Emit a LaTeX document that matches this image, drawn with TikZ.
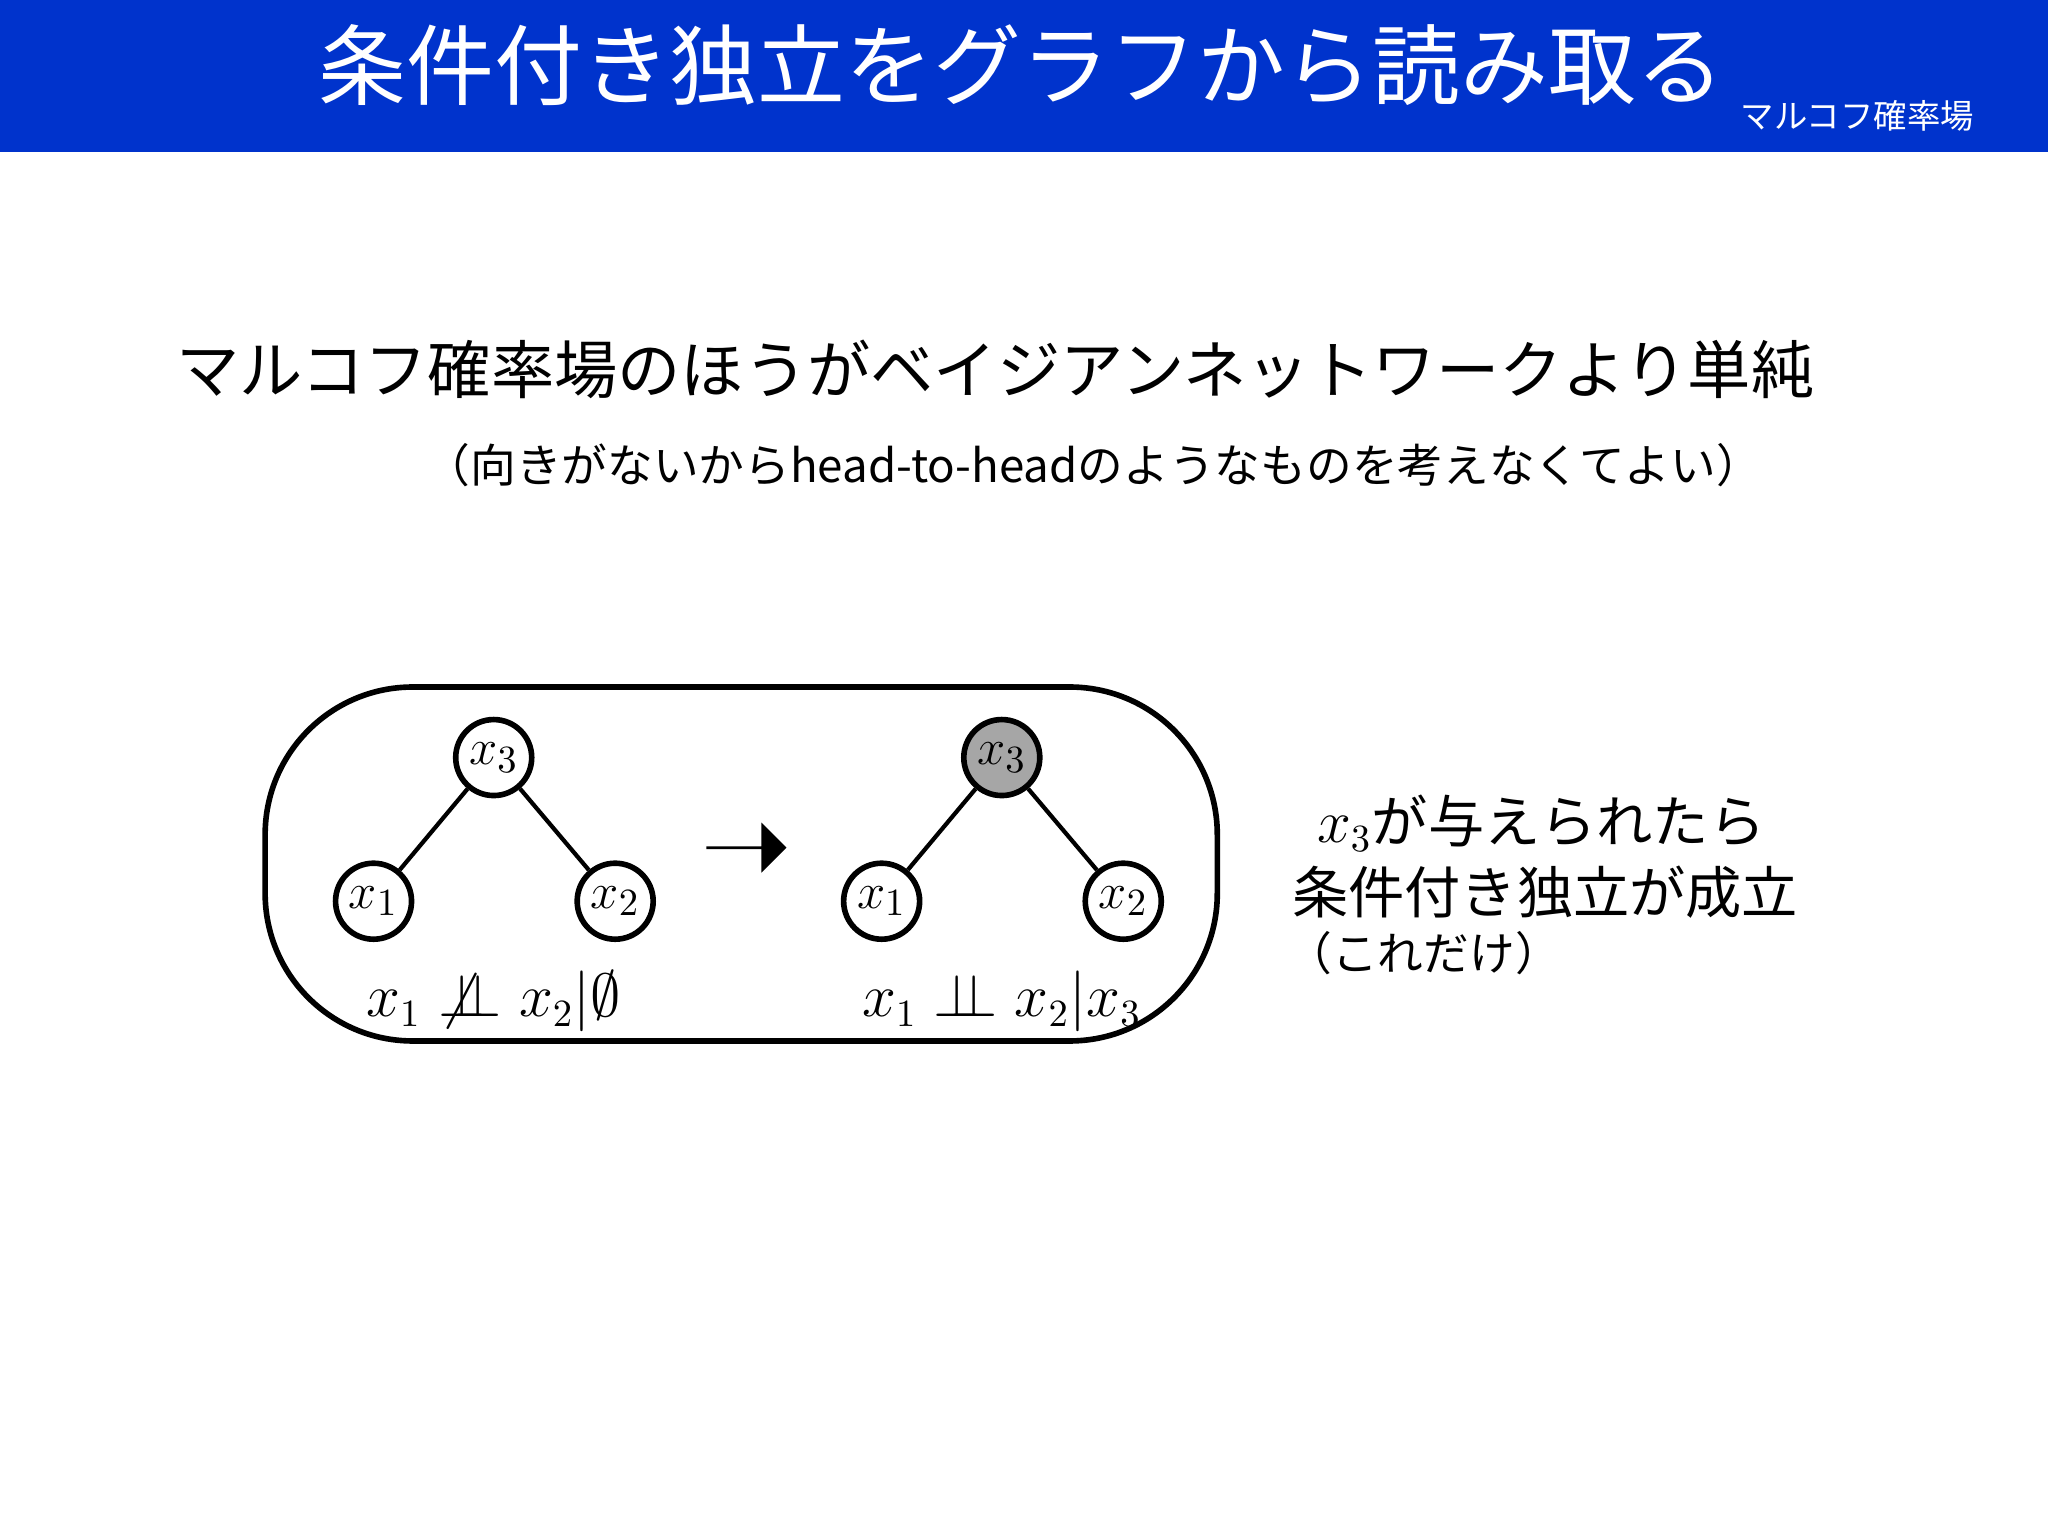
\documentclass[tikz,border=0pt]{standalone}
\usepackage{amsmath,amssymb}
\usepackage{fontspec}
\newfontfamily\jp{Noto Sans CJK JP}
\usetikzlibrary{arrows.meta,shapes.arrows}
\definecolor{hdr}{HTML}{0033CC}
\newcommand{\indep}{\mathrel{\perp\!\!\!\perp}}
\newcommand{\nindep}{\mathrel{\not\perp\!\!\!\perp}}
\begin{document}
\begin{tikzpicture}[x=0.01306cm,y=-0.01306cm,
  vnode/.style={circle,draw,line width=1.6pt,minimum size=0.76cm,inner sep=0pt,font=\fontsize{15}{17}\selectfont},
  edge/.style={line width=1.2pt}]
\useasboundingbox (0,0) rectangle (1568,1176);
\fill[white] (0,0) rectangle (1568,1176);
\fill[hdr] (0,0) rectangle (1568,116);
\node[text=white,font=\jp\fontsize{25}{28}\selectfont] (title) at (782,50) {条件付き独立をグラフから読み取る};
\node[text=white,font=\jp\fontsize{9.5}{11}\selectfont] (sub) at (1422,89) {マルコフ確率場};
\node[font=\jp\fontsize{18}{20}\selectfont] (l1) at (762,283) {マルコフ確率場のほうがベイジアンネットワークより単純};
\node[font=\jp\fontsize{13}{15}\selectfont] (l2) at (837,356) {（向きがないからhead-to-headのようなものを考えなくてよい）};
\draw[line width=1.6pt,rounded corners=42] (203,526) rectangle (932,797);
\node[vnode] (a3) at (378,580) {$x_3$};
\node[vnode] (a1) at (286,690) {$x_1$};
\node[vnode] (a2) at (471,690) {$x_2$};
\draw[edge] (a3)--(a1); \draw[edge] (a3)--(a2);
\node[vnode,fill=black!35] (b3) at (767,580) {$x_3$};
\node[vnode] (b1) at (675,690) {$x_1$};
\node[vnode] (b2) at (860,690) {$x_2$};
\draw[edge] (b3)--(b1); \draw[edge] (b3)--(b2);
\node[single arrow,fill=black,minimum height=0.8cm,minimum width=0.5cm,single arrow head extend=0.12cm,inner sep=0pt] (arr) at (571,649) {};
\node[font=\fontsize{16}{18}\selectfont] (f1) at (378,767) {$x_1 \nindep x_2|\emptyset$};
\node[font=\fontsize{16}{18}\selectfont] (f2) at (767,767) {$x_1 \indep x_2|x_3$};
\node[font=\jp\fontsize{16}{18}\selectfont] (r1) at (1180,630) {$x_3$が与えられたら};
\node[font=\jp\fontsize{16}{18}\selectfont] (r2) at (1183,683) {条件付き独立が成立};
\node[font=\jp\fontsize{13}{15}\selectfont] (r3) at (1090,730) {（これだけ）};
\end{tikzpicture}
\end{document}
